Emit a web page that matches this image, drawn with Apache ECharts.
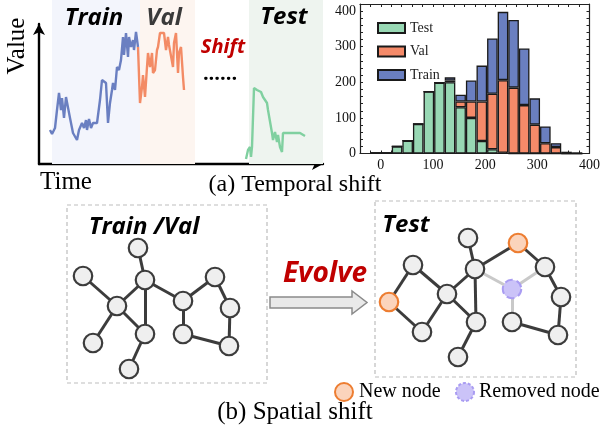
<!DOCTYPE html>
<html>
<head>
<meta charset="utf-8">
<script src="https://cdn.jsdelivr.net/npm/echarts@6/dist/echarts.min.js"></script>
<style>
  html, body { margin: 0; background: #fff; }
  #chart { width: 603px; height: 433px; }
</style>
</head>
<body>
<div id="chart"></div>
<script>
// (a) 时间序列：[时间, 数值]
const trainCurve = [[11,34],[13,30],[16,36],[18,54],[20,71],[22,54],[23,66],[25,46],[27,67],[29,67],[31,46],[34,31],[38,24],[40,34],[43,41],[45,36],[47,44],[48,34],[50,45],[52,36],[54,41],[56,39],[58,41],[61,64],[63,84],[65,82],[67,81],[69,41],[71,61],[73,74],[74,81],[76,74],[78,97],[80,94],[82,104],[84,127],[85,109],[87,131],[89,107],[90,127],[92,117],[94,124],[95,114],[97,132],[99,117]]
const valCurve = [[99,117],[101,61],[103,77],[104,89],[106,67],[108,97],[109,111],[111,97],[113,111],[114,91],[116,94],[118,114],[119,117],[121,131],[123,129],[125,131],[127,114],[129,127],[130,119],[132,117],[134,97],[135,121],[137,131],[139,91],[140,111],[142,117],[144,87],[145,74]]
const testCurve = [[207,5],[209,14],[211,17],[212,7],[213,17],[215,76],[218,74],[219,72],[222,72],[223,73],[224,67],[226,64],[228,61],[229,54],[231,56],[233,31],[234,24],[236,32],[238,22],[239,29],[241,17],[243,12],[244,31],[248,31],[261,31],[263,29],[266,28]]
// 划分区间 [起, 止]
const trainRange = [13, 101]
const valRange = [101, 156]
const testRange = [210, 284]

// 直方图
const binStarts = [-20,0,20,40,60,80,100,120,140,160,180,200,220,240,260,280,300,320,340,360]
const binWidth = 20
const testCounts = [2,2,20,36,83,174,199,200,130,100,35,12,2,0,0,0,0,0,0,0]
const valCounts = [0,0,0,0,0,0,0,5,16,46,111,156,204,185,136,81,29,18,0,0]
const trainCounts = [0,0,0,0,0,0,0,9,19,59,101,155,192,190,159,74,47,11,5,2]
const histNames = ['Test', 'Val', 'Train']

// (b) 图结构
const leftNodes = [[71,43],[16,71],[78,75],[50,101],[116,96],[148,72],[163,103],[78,129],[116,129],[26,138],[162,141],[62,164]]
const leftLinks = [[0,2],[1,3],[3,2],[2,7],[2,4],[3,7],[3,9],[7,11],[4,5],[5,6],[6,10],[10,8],[8,4]]
const rightNodes = [[93,37],[143,42],[38,64],[100,68],[170,66],[137,88],[14,101],[72,93],[186,96],[101,121],[137,121],[47,131],[183,134],[83,156]]
const newNodes = [1, 6]
const removedNodes = [5]
const rightLinks = [[0,3],[3,1],[1,4],[4,8],[8,12],[12,10],[2,6],[6,11],[11,7],[2,7],[7,3],[7,9],[3,9],[9,13]]
const removedLinks = [[3,5],[5,4],[5,10]]

const chart = echarts.init(document.getElementById('chart'))

const serif = 'Liberation Serif'
const boldItalic = (size, color) => ({ fontFamily: 'Open Sans', fontWeight: 'bold', fontStyle: 'italic', fontSize: size, fill: color })
const hiddenAxis = (gi, min, max, inverse) => ({ gridIndex: gi, type: 'value', min, max, inverse: !!inverse, show: false })

// 直方图区域
const histGrid = { left: 360, top: 4, width: 233, height: 149.5 }
const histX = [-40, 400]
const histY = [0, 420]
const histColors = ['#98d8b4', '#f58a69', '#6a7fc0']

// 柱子用类目轴（每格一个 bin），两端补空 bin 使范围与外框一致
const padLeft = (binStarts[0] - histX[0]) / binWidth
const padRight = (histX[1] - (binStarts[binStarts.length - 1] + binWidth)) / binWidth
const binLabels = []
for (let s = histX[0]; s < histX[1]; s += binWidth) binLabels.push(String(s))
const padded = counts => Array(padLeft).fill('-').concat(counts, Array(padRight).fill('-'))

const frameAxisX = (position, showLabel) => ({
  gridIndex: 1, type: 'value', position, min: histX[0], max: histX[1], interval: 20,
  axisLine: { show: true, onZero: false, lineStyle: { color: '#222', width: 1.2 } },
  axisTick: { show: true, inside: true, length: 3, lineStyle: { color: '#222' } },
  axisLabel: { show: showLabel, margin: 5, fontFamily: serif, fontSize: 14, color: '#111',
    formatter: v => (v % 100 === 0 ? v : '') },
  splitLine: { show: false }
})
const frameAxisY = (position, showLabel) => ({
  gridIndex: 1, type: 'value', position, min: histY[0], max: histY[1], interval: 20,
  axisLine: { show: true, onZero: false, lineStyle: { color: '#222', width: 1.2 } },
  axisTick: { show: true, inside: true, length: 3, lineStyle: { color: '#222' } },
  axisLabel: { show: showLabel, margin: 4, fontFamily: serif, fontSize: 14, color: '#111',
    formatter: v => (v % 100 === 0 ? v : '') },
  splitLine: { show: false }
})

const arrowAxis = {
  type: 'value', gridIndex: 2, min: 0, max: 1,
  axisLine: { show: true, onZero: false, symbol: ['none', 'arrow'], symbolSize: [9, 11], lineStyle: { color: '#000', width: 2.4 } },
  axisTick: { show: false }, axisLabel: { show: false }, splitLine: { show: false }
}

const histSeries = [testCounts, valCounts, trainCounts].map((counts, k) => ({
  name: histNames[k],
  type: 'bar',
  xAxisIndex: 6,
  yAxisIndex: 6,
  stack: 'hist',
  barWidth: '100%',
  data: padded(counts),
  itemStyle: { color: histColors[k], borderColor: '#1a1a1a', borderWidth: 1.3 }
}))

const lineSeries = (data, color) => ({
  type: 'line', xAxisIndex: 0, yAxisIndex: 0, data, showSymbol: false, silent: true,
  lineStyle: { color, width: 2.4 }, z: 3
})

const nodeStyle = { color: '#efefef', borderColor: '#3c3c3c', borderWidth: 2.2 }
const graphSeries = (nodes, links, gi, extraNodes) => ({
  type: 'graph',
  coordinateSystem: 'cartesian2d',
  xAxisIndex: gi,
  yAxisIndex: gi,
  symbolSize: 18.5,
  silent: true,
  data: nodes.map((p, i) => Object.assign({ value: p }, extraNodes ? extraNodes(i) : {})),
  links: links,
  itemStyle: nodeStyle,
  lineStyle: { color: '#3c3c3c', width: 3, opacity: 1 },
  label: { show: false },
  z: 4
})

const rightNodeExtra = i => {
  if (newNodes.includes(i)) return { itemStyle: { color: '#fbd4bc', borderColor: '#ed7d31', borderWidth: 2.2 } }
  if (removedNodes.includes(i)) return { itemStyle: { color: '#cbc3f8', borderColor: '#a99cf2', borderWidth: 2, borderType: 'dashed' } }
  return {}
}
const rightAllLinks = rightLinks.map(([s, t]) => ({ source: s, target: t }))
  .concat(removedLinks.map(([s, t]) => ({ source: s, target: t, lineStyle: { color: '#c9c9c9', width: 3 } })))

const txt = (text, x, y, style, extra) => Object.assign({
  type: 'text', x, y, z: 100,
  style: Object.assign({ text, textAlign: 'center', textVerticalAlign: 'middle' }, style)
}, extra || {})

chart.setOption({
  animation: false,
  backgroundColor: '#fff',
  grid: [
    { left: 39, top: 0, width: 286, height: 164 },
    histGrid,
    { left: 39, top: 24, width: 284, height: 140 },
    { left: 67, top: 205, width: 200, height: 178 },
    { left: 375, top: 201, width: 201, height: 176 },
    { left: histGrid.left, top: histGrid.top, width: histGrid.width, height: histGrid.height }
  ],
  xAxis: [
    hiddenAxis(0, 0, 286),
    frameAxisX('bottom', true),
    frameAxisX('top', false),
    Object.assign({}, arrowAxis),
    hiddenAxis(3, 0, 200),
    hiddenAxis(4, 0, 201),
    { gridIndex: 5, type: 'category', data: binLabels, boundaryGap: true, show: false }
  ],
  yAxis: [
    hiddenAxis(0, 0, 164),
    frameAxisY('left', true),
    frameAxisY('right', false),
    Object.assign({}, arrowAxis),
    hiddenAxis(3, 0, 178, true),
    hiddenAxis(4, 0, 176, true),
    hiddenAxis(5, histY[0], histY[1])
  ],
  legend: {
    data: histNames,
    orient: 'vertical',
    left: 372,
    top: 16,
    itemWidth: 27,
    itemHeight: 10,
    itemGap: 9.5,
    selectedMode: false,
    icon: 'rect',
    textStyle: { fontFamily: serif, fontSize: 14, color: '#222' }
  },
  series: [
    {
      type: 'line', xAxisIndex: 0, yAxisIndex: 0, data: [], silent: true,
      markArea: {
        silent: true,
        data: [
          [{ xAxis: trainRange[0], yAxis: 0, itemStyle: { color: '#f3f5fc' } }, { xAxis: trainRange[1], yAxis: 164 }],
          [{ xAxis: valRange[0], yAxis: 0, itemStyle: { color: '#fdf5f0' } }, { xAxis: valRange[1], yAxis: 164 }],
          [{ xAxis: testRange[0], yAxis: 0, itemStyle: { color: '#eef4ef' } }, { xAxis: testRange[1], yAxis: 164 }]
        ]
      }
    },
    lineSeries(trainCurve, '#6a7fc1'),
    lineSeries(valCurve, '#f38b65'),
    lineSeries(testCurve, '#80d0a0'),
    ...histSeries,
    graphSeries(leftNodes, leftLinks.map(([s, t]) => ({ source: s, target: t })), 4),
    graphSeries(rightNodes, rightAllLinks, 5, rightNodeExtra)
  ],
  graphic: [
    txt('Train', 94, 18, boldItalic(24, '#000')),
    txt('Val', 164, 18, boldItalic(24, '#3a3a3a')),
    txt('Test', 284, 17, boldItalic(24, '#000')),
    txt('Shift', 223, 47, boldItalic(20, '#c00000')),
    txt('......', 220, 74, { fontFamily: 'Open Sans', fontWeight: 'bold', fontSize: 20, fill: '#000' }),
    txt('Value', 17, 46, { fontFamily: serif, fontSize: 25, fill: '#000' }, { rotation: Math.PI / 2 }),
    txt('Time', 66, 182, { fontFamily: serif, fontSize: 25, fill: '#000' }),
    txt('(a) Temporal shift', 295, 185, { fontFamily: serif, fontSize: 24, fill: '#000' }),
    {
      type: 'rect', z: 1, shape: { x: 67, y: 205, width: 200, height: 178 },
      style: { fill: 'none', stroke: '#bdbdbd', lineWidth: 1.2, lineDash: [4, 3] }
    },
    {
      type: 'rect', z: 1, shape: { x: 375, y: 201, width: 201, height: 176 },
      style: { fill: 'none', stroke: '#bdbdbd', lineWidth: 1.2, lineDash: [4, 3] }
    },
    txt('Train /Val', 144, 227, boldItalic(24, '#000')),
    txt('Test', 406, 225, boldItalic(24, '#000')),
    txt('Evolve', 325, 274, boldItalic(28, '#c00000')),
    {
      type: 'polygon', z: 100,
      shape: { points: [[270, 297], [352, 297], [352, 291], [367, 302.5], [352, 314], [352, 308], [270, 308]] },
      style: { fill: '#e9e9e9', stroke: '#8a8a8a', lineWidth: 1.5 }
    },
    {
      type: 'circle', z: 100, shape: { cx: 344, cy: 392, r: 9 },
      style: { fill: '#fbd4bc', stroke: '#ed7d31', lineWidth: 2 }
    },
    txt('New node', 359, 392, { fontFamily: serif, fontSize: 20, fill: '#000', textAlign: 'left' }),
    {
      type: 'circle', z: 100, shape: { cx: 465, cy: 392, r: 9 },
      style: { fill: '#cbc3f8', stroke: '#a99cf2', lineWidth: 2, lineDash: [3, 2] }
    },
    txt('Removed node', 479, 392, { fontFamily: serif, fontSize: 20, fill: '#000', textAlign: 'left' }),
    txt('(b) Spatial shift', 295, 412, { fontFamily: serif, fontSize: 25, fill: '#000' })
  ]
})
</script>
</body>
</html>
